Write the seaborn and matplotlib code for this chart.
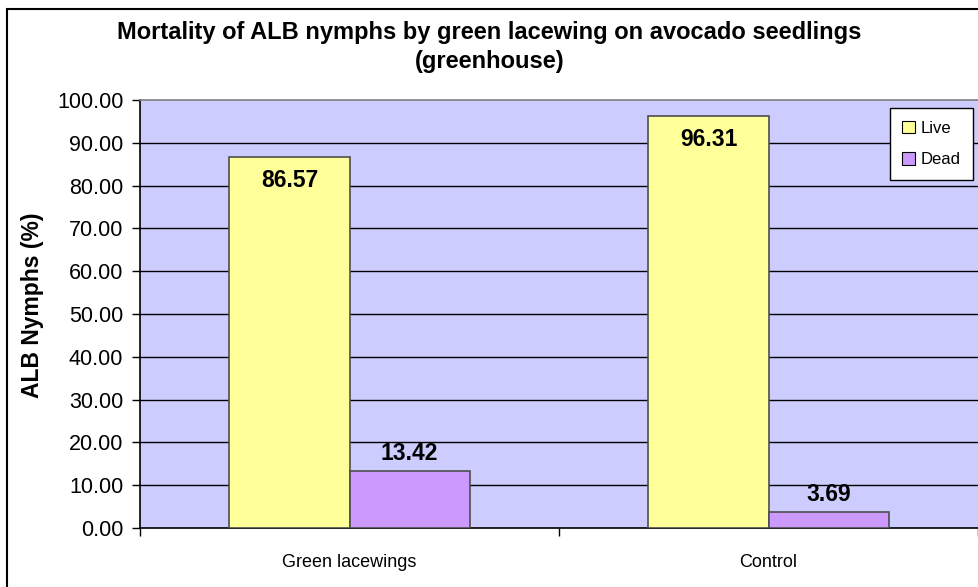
import pandas as pd
import matplotlib.pyplot as plt
import seaborn as sns
from matplotlib.patches import Rectangle

categories = ['Green lacewings', 'Control']
live = [86.57, 96.31]
dead = [13.42, 3.69]
yticks = [0, 10, 20, 30, 40, 50, 60, 70, 80, 90, 100]

df = pd.DataFrame({
    'Treatment': categories * 2,
    'Status': ['Live'] * 2 + ['Dead'] * 2,
    'Value': live + dead,
})

sns.set_style('white')
plt.rcParams['font.family'] = ['Liberation Sans', 'DejaVu Sans']
plt.rcParams['text.color'] = 'black'
plt.rcParams['axes.labelcolor'] = 'black'
plt.rcParams['xtick.color'] = 'black'
plt.rcParams['ytick.color'] = 'black'

fig = plt.figure(figsize=(9.79, 5.87), dpi=100)
ax = fig.add_axes([140 / 979, 1 - 528 / 587, 838 / 979, 428 / 587])
ax.set_facecolor('#CCCCFF')

sns.barplot(data=df, x='Treatment', y='Value', hue='Status',
            palette={'Live': '#FFFF99', 'Dead': '#CC99FF'},
            width=0.573, gap=0, edgecolor='#4d4d4d', linewidth=1.2,
            saturation=1, ax=ax, zorder=3)

ax.set_ylim(0, 100)
ax.set_xlim(-0.5, 1.5)
ax.set_yticks(yticks)
ax.set_yticklabels([f'{v:.2f}' for v in yticks], fontsize=15.5)
for v in yticks[1:-1]:
    ax.axhline(v, color='black', lw=1, zorder=1)

ax.tick_params(axis='y', direction='out', length=6, width=1, color='black', left=True, pad=6)
ax.tick_params(axis='x', which='major', length=0, labelsize=13, pad=19)
ax.set_xticks([-0.5, 0.5, 1.5], minor=True)
ax.tick_params(axis='x', which='minor', direction='out', length=6, width=1, color='black', bottom=True)

for s in ['left', 'bottom']:
    ax.spines[s].set_color('black')
    ax.spines[s].set_linewidth(1.2)
ax.spines['top'].set_color('#808080')
ax.spines['top'].set_linewidth(1.2)
ax.spines['right'].set_visible(False)

ax.set_xlabel('')
ax.set_ylabel('ALB Nymphs (%)', fontsize=16.5, fontweight='bold')
ax.yaxis.set_label_coords(-0.114, 0.52)

# value labels
for i, v in enumerate(live):
    ax.text(i - 0.143, v - 2.8, f'{v:.2f}', ha='center', va='top',
            fontsize=16.5, fontweight='bold', zorder=4)
for i, v in enumerate(dead):
    ax.text(i + 0.143, v + 1.4, f'{v:.2f}', ha='center', va='bottom',
            fontsize=16.5, fontweight='bold', zorder=4)

fig.text(0.5, 1 - 47 / 587, 'Mortality of ALB nymphs by green lacewing on avocado seedlings\n(greenhouse)',
         ha='center', va='center', fontsize=17, fontweight='bold', linespacing=1.3)

leg = ax.legend(loc='upper right', bbox_to_anchor=(0.994, 0.981), frameon=True, fancybox=False,
                fontsize=12, handlelength=0.75, handleheight=0.75, handletextpad=0.35,
                borderpad=0.75, labelspacing=1.0, title=None, borderaxespad=0)
leg.get_frame().set_edgecolor('black')
leg.get_frame().set_linewidth(1)
leg.get_frame().set_facecolor('white')
leg.get_frame().set_alpha(1)
for h in leg.legend_handles:
    h.set_edgecolor('black')
    h.set_linewidth(0.8)

fig.patches.append(Rectangle((7 / 979, -0.01), 1.0, 1 - 9 / 587 + 0.01, transform=fig.transFigure,
                             fill=False, edgecolor='black', lw=1.5))

fig.savefig('out.png', dpi=100)
